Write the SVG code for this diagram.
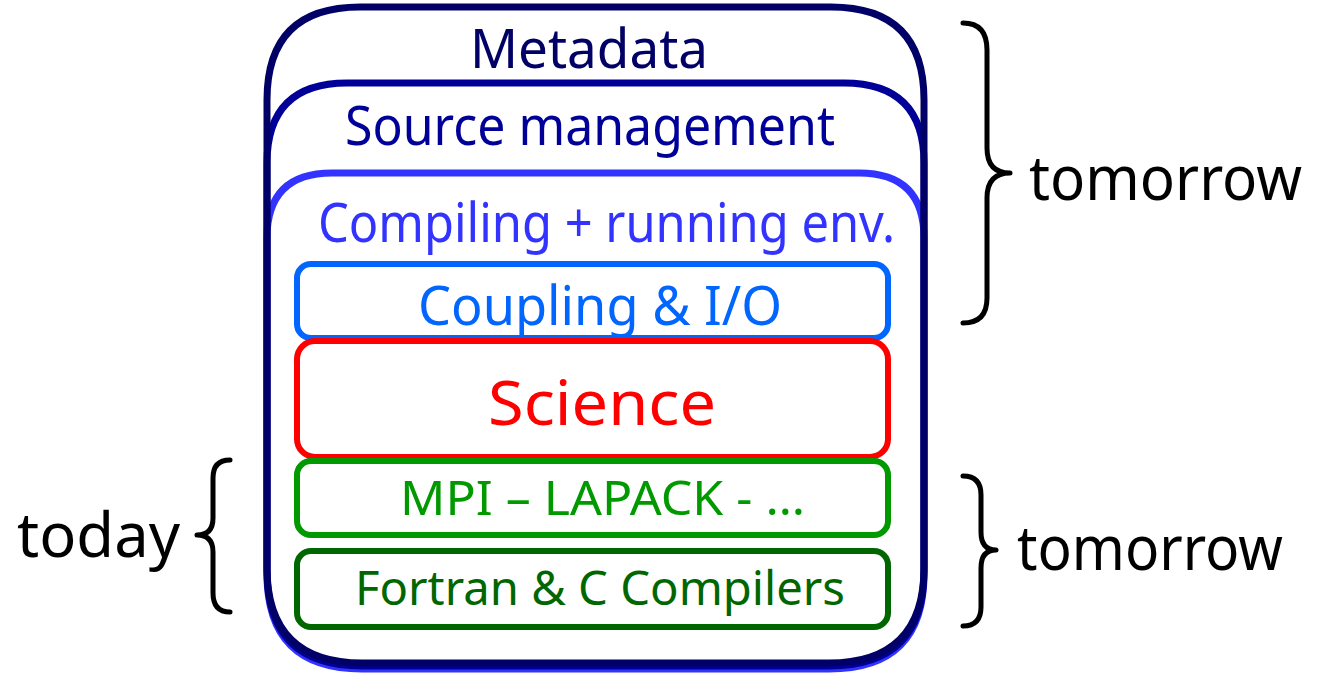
<svg xmlns="http://www.w3.org/2000/svg" width="1317" height="674" viewBox="0 0 1317 674">
<style>
text{font-family:"Noto Sans","DejaVu Sans",sans-serif;}
.big{fill:none;stroke-width:7}
.box{fill:#fff;stroke-width:6}
.brace{fill:none;stroke:#000;stroke-width:5;stroke-linecap:round;stroke-linejoin:round}
.lbl{font-size:62px;fill:#000}
</style>
<rect width="1317" height="674" fill="#fff"/>
<g id="compiling">
<path class="big" stroke="#3333ff" d="M267,238 Q267,173 332,173 L859,173 Q924,173 924,238 L924,574 Q924,669 829,669 L362,669 Q267,669 267,574 Z"/>
</g>
<g id="source-management">
<path class="big" stroke="#000099" d="M267,163 Q267,83 347,83 L844,83 Q924,83 924,163 L924,571 Q924,666 829,666 L362,666 Q267,666 267,571 Z"/>
<text x="345" y="145" font-size="54" fill="#000099" textLength="490" lengthAdjust="spacingAndGlyphs">Source management</text>
</g>
<g id="metadata">
<path class="big" stroke="#000066" d="M267,100 Q267,7 360,7 L831,7 Q924,7 924,100 L924,568 Q924,663 829,663 L362,663 Q267,663 267,568 Z"/>
<text x="470" y="68" font-size="54" fill="#000066" textLength="238" lengthAdjust="spacingAndGlyphs">Metadata</text>
</g>
<text x="318" y="242" font-size="54" fill="#3333ff" textLength="577" lengthAdjust="spacingAndGlyphs">Compiling + running env.</text>
<g id="coupling">
<rect class="box" x="297" y="264" width="591" height="74" rx="14" stroke="#0066ff"/>
<text x="418" y="325" font-size="54" fill="#0066ff" textLength="364" lengthAdjust="spacingAndGlyphs">Coupling &amp; I/O</text>
</g>
<g id="science">
<rect class="box" x="297" y="341" width="591" height="116" rx="18" stroke="#ff0000"/>
<text x="488" y="425" font-size="62" fill="#ff0000" textLength="228" lengthAdjust="spacingAndGlyphs">Science</text>
</g>
<g id="mpi">
<rect class="box" x="297" y="461" width="591" height="74" rx="14" stroke="#009900"/>
<text x="400" y="515" font-size="48" fill="#009900" textLength="405" lengthAdjust="spacingAndGlyphs">MPI – LAPACK - …</text>
</g>
<g id="fortran">
<rect class="box" x="297" y="551" width="591" height="76" rx="14" stroke="#006600"/>
<text x="355" y="605" font-size="47" fill="#006600" textLength="490" lengthAdjust="spacingAndGlyphs">Fortran &amp; C Compilers</text>
</g>
<g id="connectors">
<path class="brace" d="M963,23 Q987,23 987,50 L987,148 Q987,173 1010,173 Q987,173 987,198 L987,298 Q987,323 963,323"/>
<path class="brace" d="M963,476 Q981,476 981,495 L981,532 Q981,550 996,550 Q981,550 981,568 L981,607 Q981,626 963,626"/>
<path class="brace" d="M230,460 Q213,460 213,478 L213,518 Q213,535 197,535 Q213,535 213,552 L213,593 Q213,612 230,612"/>
</g>
<g id="labels">
<text class="lbl" x="1029" y="200" font-size="63" textLength="273" lengthAdjust="spacingAndGlyphs">tomorrow</text>
<text class="lbl" x="1017" y="570" font-size="60" textLength="266" lengthAdjust="spacingAndGlyphs">tomorrow</text>
<text class="lbl" x="17" y="557" font-size="60" textLength="163" lengthAdjust="spacingAndGlyphs">today</text>
</g>
</svg>
